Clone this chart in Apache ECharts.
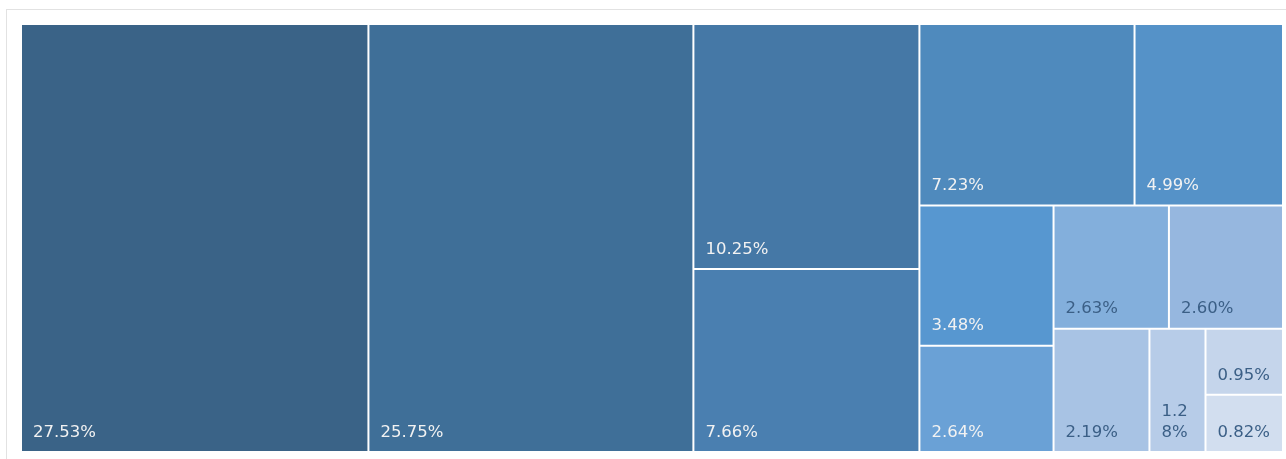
<!DOCTYPE html>
<html>
<head>
<meta charset="utf-8">
<script src="https://cdn.jsdelivr.net/npm/echarts@6/dist/echarts.min.js"></script>
<style>
  html, body { margin: 0; padding: 0; background: #fff; overflow: hidden; }
  #frame { position: absolute; left: 6px; top: 9px; width: 1300px; height: 470px; border: 1px solid #e2e2e2; box-sizing: border-box; }
  #main { position: absolute; left: 0; top: 0; width: 1286px; height: 459px; }
</style>
</head>
<body>
<div id="frame"></div>
<div id="main"></div>
<script>
// share of total, percent
var shares = [27.53, 25.75, 10.25, 7.66, 7.23, 4.99, 3.48, 2.64, 2.63, 2.60, 2.19, 1.28, 0.95, 0.82]
// fill per cell, largest to smallest
var palette = ['#3a6387', '#3f6f98', '#4578a6', '#4a7fb0', '#4f8abd', '#5592c8', '#5797d0',
  '#6aa1d6', '#83afdc', '#96b7df', '#a8c3e4', '#b7cce8', '#c5d5eb', '#d2deef']
var darkText = '#3b5f86'

var chart = echarts.init(document.getElementById('main'))

var items = shares.map(function (v, i) {
  return {
    name: 'item' + i,
    value: v,
    itemStyle: { color: palette[i] },
    label: { color: i >= 8 ? darkText : '#f2f2f2' }
  }
})

chart.setOption({
  animation: false,
  series: [{
    type: 'treemap',
    left: 22,
    top: 25,
    width: 1260,
    height: 426,
    roam: false,
    nodeClick: false,
    squareRatio: 0.8,
    breadcrumb: { show: false },
    sort: 'desc',
    label: {
      show: true,
      position: 'insideBottomLeft',
      padding: [0, 11, 8, 11],
      fontFamily: 'DejaVu Sans',
      fontSize: 16.5,
      lineHeight: 21,
      overflow: 'breakAll',
      formatter: function (p) {
        return p.value.toFixed(2) + '%'
      }
    },
    upperLabel: { show: false },
    levels: [{
      itemStyle: { borderWidth: 0, gapWidth: 2, borderColor: '#fff' }
    }],
    data: items
  }]
})
</script>
</body>
</html>
